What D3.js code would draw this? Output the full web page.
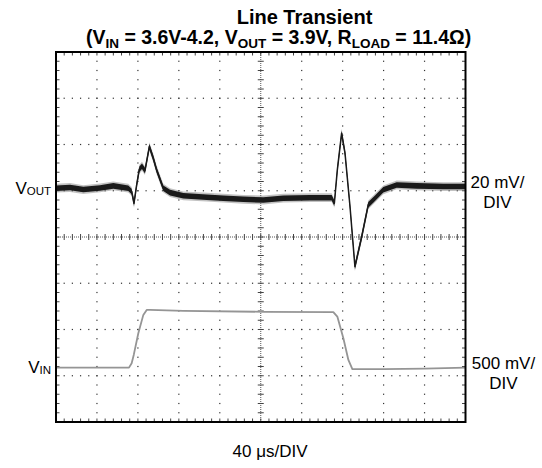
<!DOCTYPE html>
<html>
<head>
<meta charset="utf-8">
<script src="https://cdn.jsdelivr.net/npm/d3@7"></script>
<style>
  body { margin: 0; background: #fff; }
  text { font-family: "Liberation Sans", Arial, sans-serif; fill: #000; }
</style>
</head>
<body>
<div id="chart"></div>
<script>
var svgWidth = 542;
var svgHeight = 468;

// plot frame (screen area of the scope grid)
var frame = { left: 56, right: 465.5, top: 52, bottom: 422 };

// time in us, 40 us/div, 10 divisions
var timeRange = [0, 400];

// VOUT (AC coupled), mV relative to 3.9 V, 20 mV/div
var voutTime = [0, 13.7, 26.7, 43, 56, 70.6, 73.9, 76.2, 78.8, 81.4, 84, 86.9, 91.2, 95, 98.3, 104.8,
    111.4, 124.4, 147.2, 163.4, 183, 202.5, 222, 248, 269.3, 271.9, 274.8, 279, 282.3, 287.2,
    292, 298.6, 305, 311.6, 319.7, 332.8, 352.3, 378.3, 400];
var voutMv = [0, 0.3, -0.6, 0.1, 1, 0, -1.4, -6.5, 1.4, 8.2, 9.5, 7.6, 18, 13, 7.9, 0,
    -1.9, -3.3, -3.9, -4.3, -4.8, -5.1, -4.3, -4.1, -4.1, -6.5, 7.9, 23.8, 15.2, -8,
    -33.9, -21, -7.2, -4.3, -0.7, 1.4, 1, 0.7, 0.7];

// VIN, volts, 500 mV/div
var vinTime = [0, 71.3, 73.9, 76, 80.4, 85.3, 88.6, 91.9, 124.4, 202.5, 270.9, 274.8, 280.7,
    285.6, 289.5, 320, 360, 400];
var vinVolts = [3.6, 3.6, 3.648, 3.74, 3.972, 4.17, 4.224, 4.224, 4.214, 4.203, 4.2, 4.152, 3.918,
    3.683, 3.583, 3.583, 3.59, 3.6];

var voutData = voutTime.map((t, i) => ({ t: t, v: voutMv[i] }));
var vinData = vinTime.map((t, i) => ({ t: t, v: vinVolts[i] }));

var svg = d3.select("#chart")
    .append("svg")
    .attr("width", svgWidth)
    .attr("height", svgHeight);

// scales
var xScale = d3.scaleLinear().domain(timeRange).range([frame.left, frame.right]);
var xDiv = d3.scaleLinear().domain([0, 10]).range([frame.left, frame.right]);
var yDiv = d3.scaleLinear().domain([-4, 4]).range([frame.bottom, frame.top]);
// 0 mV sits 1.054 div above centre
var yOut = d3.scaleLinear().domain([-101.1, 58.9]).range([frame.bottom, frame.top]);
// 3.6 V sits 2.824 div below centre
var yIn = d3.scaleLinear().domain([3.012, 7.012]).range([frame.bottom, frame.top]);

var grid = svg.append("g");

var minorX = d3.range(0, 50.5).map(d => d / 5);
var minorY = d3.range(-20, 20.5).map(d => d / 5);

// dotted major grid lines
[1, 2, 3, 4, 6, 7, 8, 9].forEach(function (k) {
    grid.selectAll(null)
        .data(minorY)
        .enter()
        .append("rect")
        .attr("x", xDiv(k) - 0.6)
        .attr("y", d => yDiv(d) - 0.6)
        .attr("width", 1.2)
        .attr("height", 1.2)
        .attr("fill", "#333");
});
[-3, -2, -1, 1, 2, 3].forEach(function (k) {
    grid.selectAll(null)
        .data(minorX)
        .enter()
        .append("rect")
        .attr("x", d => xDiv(d) - 0.6)
        .attr("y", yDiv(k) - 0.6)
        .attr("width", 1.2)
        .attr("height", 1.2)
        .attr("fill", "#333");
});

// centre axes
grid.append("line")
    .attr("x1", xDiv(0)).attr("x2", xDiv(10))
    .attr("y1", yDiv(0)).attr("y2", yDiv(0))
    .attr("stroke", "#555").attr("stroke-width", 1)
    .attr("stroke-dasharray", "1,1");
grid.append("line")
    .attr("x1", xDiv(5)).attr("x2", xDiv(5))
    .attr("y1", yDiv(-4)).attr("y2", yDiv(4))
    .attr("stroke", "#555").attr("stroke-width", 1)
    .attr("stroke-dasharray", "1,1");

grid.selectAll(".hcTick")
    .data(minorX)
    .enter()
    .append("line")
    .attr("x1", d => xDiv(d)).attr("x2", d => xDiv(d))
    .attr("y1", yDiv(0) - 3).attr("y2", yDiv(0) + 3)
    .attr("stroke", "#444").attr("stroke-width", 1);
grid.selectAll(".vcTick")
    .data(minorY)
    .enter()
    .append("line")
    .attr("x1", xDiv(5) - 3).attr("x2", xDiv(5) + 3)
    .attr("y1", d => yDiv(d)).attr("y2", d => yDiv(d))
    .attr("stroke", "#444").attr("stroke-width", 1);

// inner ticks on the frame
grid.selectAll(".topTick")
    .data(minorX)
    .enter()
    .append("line")
    .attr("x1", d => xDiv(d)).attr("x2", d => xDiv(d))
    .attr("y1", frame.top).attr("y2", frame.top + 3.5)
    .attr("stroke", "#444");
grid.selectAll(".botTick")
    .data(minorX)
    .enter()
    .append("line")
    .attr("x1", d => xDiv(d)).attr("x2", d => xDiv(d))
    .attr("y1", frame.bottom).attr("y2", frame.bottom - 3.5)
    .attr("stroke", "#444");
grid.selectAll(".leftTick")
    .data(minorY)
    .enter()
    .append("line")
    .attr("x1", frame.left).attr("x2", frame.left + 3.5)
    .attr("y1", d => yDiv(d)).attr("y2", d => yDiv(d))
    .attr("stroke", "#444");
grid.selectAll(".rightTick")
    .data(minorY)
    .enter()
    .append("line")
    .attr("x1", frame.right).attr("x2", frame.right - 3.5)
    .attr("y1", d => yDiv(d)).attr("y2", d => yDiv(d))
    .attr("stroke", "#444");

// traces
var vinLine = d3.line()
    .x(d => xScale(d.t))
    .y(d => yIn(d.v));

svg.append("path")
    .datum(vinData)
    .attr("d", vinLine)
    .attr("fill", "none")
    .attr("stroke", "#959595")
    .attr("stroke-width", 1.8)
    .attr("stroke-linejoin", "round");

// noise band of VOUT drawn as vertical band around the trace
var bandOuter = d3.area()
    .x(d => xScale(d.t))
    .y0(d => yOut(d.v - 1.9))
    .y1(d => yOut(d.v + 1.9));
var bandInner = d3.area()
    .x(d => xScale(d.t))
    .y0(d => yOut(d.v - 1.2))
    .y1(d => yOut(d.v + 1.2));
var voutLine = d3.line()
    .x(d => xScale(d.t))
    .y(d => yOut(d.v));

svg.append("path")
    .datum(voutData)
    .attr("d", bandOuter)
    .attr("fill", "#777")
    .attr("opacity", 0.45);
svg.append("path")
    .datum(voutData)
    .attr("d", bandInner)
    .attr("fill", "#1a1a1a");
svg.append("path")
    .datum(voutData)
    .attr("d", voutLine)
    .attr("fill", "none")
    .attr("stroke", "#1a1a1a")
    .attr("stroke-width", 1.5)
    .attr("stroke-linejoin", "round");

// frame
svg.append("rect")
    .attr("x", frame.left)
    .attr("y", frame.top)
    .attr("width", frame.right - frame.left)
    .attr("height", frame.bottom - frame.top)
    .attr("fill", "none")
    .attr("stroke", "#000")
    .attr("stroke-width", 2);

// title
svg.append("text")
    .attr("x", 304.5)
    .attr("y", 24)
    .attr("text-anchor", "middle")
    .attr("font-size", "20px")
    .attr("font-weight", "bold")
    .text("Line Transient");

var t2 = svg.append("text")
    .attr("x", 86)
    .attr("y", 44)
    .attr("font-size", "19.5px")
    .attr("font-weight", "bold");
var titleParts = [["(V", ""], ["IN", "sub"], [" = 3.6V-4.2, V", ""], ["OUT", "sub"],
    [" = 3.9V, R", ""], ["LOAD", "sub"], [" = 11.4Ω)", ""]];
titleParts.forEach(function (p, i) {
    var prevSub = i > 0 && titleParts[i - 1][1] === "sub";
    t2.append("tspan")
        .attr("font-size", p[1] === "sub" ? "13.5px" : "19.5px")
        .attr("dy", p[1] === "sub" ? 4 : (prevSub ? -4 : 0))
        .text(p[0]);
});

// channel labels
function channelLabel(y, sub) {
    var t = svg.append("text")
        .attr("x", 51)
        .attr("y", y)
        .attr("text-anchor", "end")
        .attr("font-size", "17px");
    t.append("tspan").text("V");
    t.append("tspan").attr("font-size", "11.5px").attr("dy", 1).text(sub);
}
channelLabel(193.5, "OUT");
channelLabel(372.5, "IN");

function scaleLabel(x, y, first) {
    svg.append("text")
        .attr("x", x).attr("y", y)
        .attr("text-anchor", "middle")
        .attr("font-size", "17px")
        .text(first);
    svg.append("text")
        .attr("x", x).attr("y", y + 20.5)
        .attr("text-anchor", "middle")
        .attr("font-size", "17px")
        .text("DIV");
}
scaleLabel(497.5, 187.5, "20 mV/");
scaleLabel(503.5, 368.5, "500 mV/");

svg.append("text")
    .attr("x", 270)
    .attr("y", 456.5)
    .attr("text-anchor", "middle")
    .attr("font-size", "17px")
    .text("40 μs/DIV");
</script>
</body>
</html>
